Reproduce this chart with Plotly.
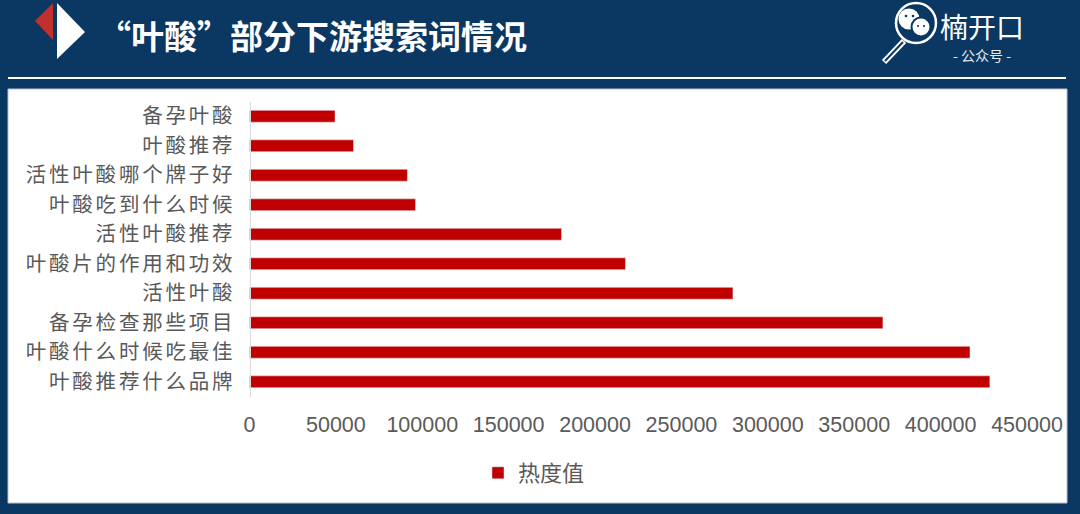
import plotly.graph_objects as go

categories = ["备孕叶酸", "叶酸推荐", "活性叶酸哪个牌子好", "叶酸吃到什么时候", "活性叶酸推荐",
              "叶酸片的作用和功效", "活性叶酸", "备孕检查那些项目", "叶酸什么时候吃最佳", "叶酸推荐什么品牌"]
values = [49500, 60200, 91400, 96100, 180600, 217600, 279800, 366600, 417000, 428500]
series_name = "热度值"
title = "“叶酸”部分下游搜索词情况"
tick_values = [0, 50000, 100000, 150000, 200000, 250000, 300000, 350000, 400000, 450000]

W, H = 1080, 514
NAVY, RED, WHITE = "#0b3763", "#c00000", "#ffffff"
CJK = "Noto Sans CJK SC"
def X(x): return x / W
def Y(y): return 1 - y / H

def rect(x0, y0, x1, y1, fill, line=None):
    return dict(type="rect", xref="paper", yref="paper", x0=X(x0), x1=X(x1), y0=Y(y0), y1=Y(y1),
                fillcolor=fill, line=dict(color=line or fill, width=1 if line else 0), layer="below")
def path(points, fill):
    d = "M" + " L".join(f"{X(a):.5f},{Y(b):.5f}" for a, b in points) + " Z"
    return dict(type="path", xref="paper", yref="paper", path=d, fillcolor=fill, line=dict(width=0), layer="above")
def circle(cx, cy, r, fill, line=None, width=0):
    return dict(type="circle", xref="paper", yref="paper", x0=X(cx - r), x1=X(cx + r), y0=Y(cy + r), y1=Y(cy - r),
                fillcolor=fill, line=dict(color=line or fill, width=width), layer="above")

shapes = [
    rect(8, 77, 1066, 79, WHITE),
    rect(8, 89, 1067, 503, WHITE, "#b9c3cf"),
    path([(35, 21), (53, 3), (53, 40)], "#c0302e"),
    path([(57, 3), (85, 32), (57, 59)], WHITE),
    # magnifying glass
    dict(type="line", xref="paper", yref="paper", x0=X(904), x1=X(884), y0=Y(41), y1=Y(62),
         line=dict(color=WHITE, width=6), layer="above"),
    dict(type="line", xref="paper", yref="paper", x0=X(903), x1=X(885), y0=Y(42), y1=Y(61),
         line=dict(color=NAVY, width=2), layer="above"),
    circle(916, 23, 20, NAVY, WHITE, 2.5),
    circle(909, 19, 10.5, WHITE),
    circle(921, 27, 10.5, NAVY),
    circle(921, 27, 8.5, WHITE),
    circle(906, 16, 1.3, NAVY), circle(913, 16, 1.3, NAVY),
    circle(918, 26, 1.1, NAVY), circle(924, 26, 1.1, NAVY),
]

annotations = [
    dict(text=title, xref="paper", yref="paper", x=X(96), y=Y(35), xanchor="left", yanchor="middle",
         showarrow=False, font=dict(family=CJK, size=33, color=WHITE, weight="bold")),
    dict(text="楠开口", xref="paper", yref="paper", x=X(982), y=Y(26), xanchor="center", yanchor="middle",
         showarrow=False, font=dict(family=CJK, size=28, color=WHITE)),
    dict(text="- 公众号 -", xref="paper", yref="paper", x=X(982), y=Y(55), xanchor="center", yanchor="middle",
         showarrow=False, font=dict(family=CJK, size=14, color="#e6ebf0")),
]

fig = go.Figure(go.Bar(x=values, y=categories, orientation="h", name=series_name,
                       marker=dict(color=RED), showlegend=True))
fig.update_layout(
    width=W, height=H, margin=dict(l=0, r=0, t=0, b=0, autoexpand=False),
    paper_bgcolor=NAVY, plot_bgcolor="rgba(0,0,0,0)", bargap=0.6, shapes=shapes, annotations=annotations,
    font=dict(family=CJK, color="#595959"),
    legend=dict(x=X(534), y=Y(473), xanchor="center", yanchor="middle", orientation="h",
                bgcolor="rgba(0,0,0,0)", font=dict(family=CJK, size=22, color="#595959"), itemwidth=30),
    xaxis=dict(domain=[X(249.5), X(1027)], range=[0, 450000], tickvals=tick_values, tickformat="d",
               showgrid=False, zeroline=False, showline=False, ticks="", automargin=False,
               tickfont=dict(family="Liberation Sans", size=21.5, color="#595959"), anchor="free", position=Y(409)),
    yaxis=dict(domain=[Y(396.5), Y(101.5)], autorange="reversed", categoryorder="array", categoryarray=categories,
               showline=True, linecolor="#d9d9d9", linewidth=1, ticks="", showgrid=False, ticklabelstandoff=10,
               automargin=False, tickfont=dict(family=CJK, size=20.5, color="#595959"), anchor="free", position=X(249.5)),
)
post = ("document.body.style.margin='0';"
        "document.querySelectorAll('.ytick text').forEach(function(t){t.style.letterSpacing='2.8px';});")
fig.write_html("out.html", post_script=post, config={"displayModeBar": False})
